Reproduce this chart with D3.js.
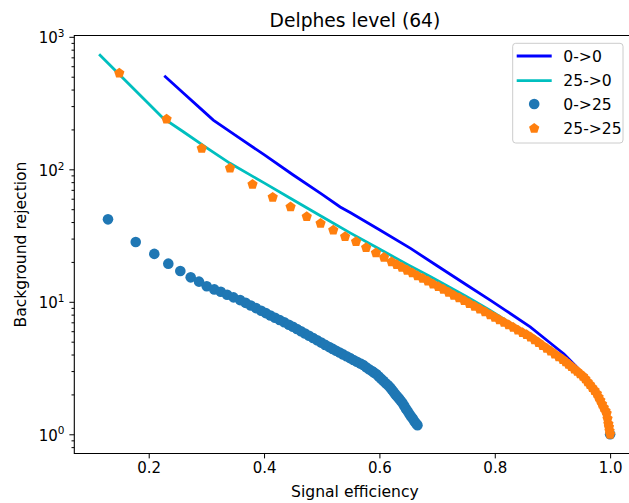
<!doctype html>
<html>
  <head>
    <script src="https://d3js.org/d3.v7.min.js"></script>
    <style>
      body { margin: 0; background: #fff; }
      svg { display: block; }
      text { font-family: "DejaVu Sans", sans-serif; }
    </style>
  </head>
  <body>
    <script>
    // 0->0 (line)
    var eff00 = [0.227, 0.26, 0.29, 0.312, 0.35, 0.40, 0.45, 0.50, 0.532, 0.55, 0.60, 0.654, 0.70, 0.75, 0.792, 0.82, 0.8614, 0.90, 0.92, 0.942, 0.96, 0.975, 0.99, 1.0];
    var rej00 = [509, 377, 287, 235, 181, 129, 91, 65, 52, 47, 35, 25.3, 18.7, 13.5, 10.3, 8.55, 6.47, 4.74, 4.04, 3.23, 2.55, 2.1, 1.55, 1.0];

    // 25->0 (line)
    var eff250 = [0.114, 0.15, 0.2, 0.225, 0.26, 0.3, 0.341, 0.4, 0.45, 0.5, 0.55, 0.6, 0.65, 0.688, 0.75, 0.79, 0.85, 0.9, 0.94, 0.96, 0.975, 0.99, 1.0];
    var rej250 = [739, 516, 313, 243, 192, 146, 111, 79, 59, 44, 33, 25, 19, 15.5, 11, 8.7, 6.0, 4.0, 2.9, 2.45, 2.05, 1.5, 1.0];

    // 0->25 (circles)
    var eff025 = [0.1294, 0.1775, 0.2097, 0.234, 0.2548, 0.2728, 0.2872, 0.3006, 0.3138,
      0.325, 0.336, 0.347, 0.3585, 0.368, 0.377, 0.386, 0.395, 0.403, 0.411, 0.419, 0.427, 0.435, 0.443, 0.450,
      0.457, 0.464, 0.471, 0.478, 0.485, 0.492, 0.499, 0.506, 0.513, 0.519, 0.525, 0.531, 0.537, 0.543, 0.549,
      0.555, 0.561, 0.567, 0.572, 0.577, 0.582, 0.587, 0.591, 0.595, 0.599, 0.603, 0.607, 0.611, 0.615, 0.619,
      0.622, 0.625, 0.628, 0.631, 0.634, 0.637, 0.640, 0.643, 0.646, 0.649, 0.652, 0.655, 0.658, 0.661, 0.664, 0.666,
      1.0];
    var rej025 = [41.9, 28.3, 23.0, 19.4, 17.1, 15.3, 14.2, 13.1, 12.4,
      11.9, 11.3, 10.8, 10.3, 9.82, 9.38, 8.96, 8.57, 8.22, 7.89, 7.58, 7.28, 7.00, 6.71, 6.49,
      6.24, 6.00, 5.77, 5.55, 5.33, 5.12, 4.92, 4.73, 4.55, 4.41, 4.27, 4.14, 4.01, 3.88, 3.76,
      3.64, 3.53, 3.42, 3.33, 3.21, 3.10, 3.00, 2.92, 2.84, 2.73, 2.62, 2.53, 2.43, 2.34, 2.25,
      2.16, 2.08, 2.00, 1.93, 1.86, 1.79, 1.72, 1.64, 1.56, 1.49, 1.42, 1.36, 1.31, 1.25, 1.20, 1.17,
      1.0];

    // 25->25 (pentagons)
    var eff2525 = [0.149, 0.231, 0.292, 0.341, 0.380, 0.415, 0.446, 0.474, 0.498, 0.520, 0.5405, 0.5595, 0.577, 0.594, 0.608, 0.621,
      0.630, 0.639, 0.648, 0.657, 0.666, 0.675, 0.684, 0.693, 0.702, 0.711, 0.720, 0.729, 0.738, 0.747, 0.756, 0.765, 0.774, 0.783, 0.792, 0.800,
      0.808, 0.816, 0.824, 0.832, 0.840, 0.848, 0.855, 0.862, 0.869, 0.876, 0.883, 0.890, 0.897, 0.904, 0.911, 0.918,
      0.923, 0.928, 0.933, 0.938, 0.943, 0.948, 0.953, 0.957, 0.961, 0.965, 0.969, 0.973, 0.977,
      0.980, 0.983, 0.986, 0.989, 0.992, 0.994, 0.9955, 0.997, 0.998, 0.999, 1.0];
    var rej2525 = [531, 239, 144, 102, 77, 61.5, 52, 44, 39, 34.8, 31.0, 28.4, 25.6, 23.4, 21.6, 20.0,
      19.1, 18.2, 17.3, 16.5, 15.7, 15.0, 14.3, 13.6, 13.0, 12.4, 11.8, 11.2, 10.7, 10.2, 9.70, 9.25, 8.80, 8.38, 7.98, 7.64,
      7.31, 7.00, 6.69, 6.40, 6.12, 5.86, 5.64, 5.41, 5.15, 4.91, 4.67, 4.45, 4.24, 4.03, 3.84, 3.66,
      3.52, 3.37, 3.24, 3.10, 2.98, 2.86, 2.74, 2.62, 2.49, 2.37, 2.25, 2.14, 2.03,
      1.91, 1.80, 1.69, 1.59, 1.50, 1.44, 1.31, 1.20, 1.13, 1.06, 1.00];

    var xTicks = [0.2, 0.4, 0.6, 0.8, 1.0];
    var yTicks = [1, 10, 100, 1000];
    var yMinor = [0.8, 0.9, 2, 3, 4, 5, 6, 7, 8, 9, 20, 30, 40, 50, 60, 70, 80, 90, 200, 300, 400, 500, 600, 700, 800, 900];

    var width = 629, height = 503;
    var pLeft = 74.3, pRight = 635.5, pTop = 35.5, pBottom = 453.5;

    var svg = d3.select("body").append("svg")
      .attr("width", width)
      .attr("height", height);

    var x = d3.scaleLinear().domain([0.071, 1.044]).range([pLeft, pRight]);
    var y = d3.scaleLog().domain([Math.pow(10, -0.145), Math.pow(10, 3.01)]).range([pBottom, pTop]);

    svg.append("clipPath").attr("id", "clip")
      .append("rect")
      .attr("x", pLeft).attr("y", pTop)
      .attr("width", pRight - pLeft).attr("height", pBottom - pTop);

    var plot = svg.append("g").attr("clip-path", "url(#clip)");

    function pairs(xs, ys) {
      return xs.map(function(d, i) { return [d, ys[i]]; });
    }

    var line = d3.line()
      .x(function(d) { return x(d[0]); })
      .y(function(d) { return y(d[1]); });

    plot.append("path")
      .datum(pairs(eff00, rej00))
      .attr("d", line)
      .attr("fill", "none")
      .attr("stroke", "#0000ff")
      .attr("stroke-width", 2.8);

    plot.append("path")
      .datum(pairs(eff250, rej250))
      .attr("d", line)
      .attr("fill", "none")
      .attr("stroke", "#00bfbf")
      .attr("stroke-width", 2.8);

    plot.selectAll("circle.c025")
      .data(pairs(eff025, rej025))
      .enter()
      .append("circle")
      .attr("class", "c025")
      .attr("cx", function(d) { return x(d[0]); })
      .attr("cy", function(d) { return y(d[1]); })
      .attr("r", 5.3)
      .attr("fill", "#1f77b4");

    function pentagon(r) {
      var pts = [];
      for (var k = 0; k < 5; k++) {
        var a = -Math.PI / 2 + k * 2 * Math.PI / 5;
        pts.push([r * Math.cos(a), r * Math.sin(a)]);
      }
      return "M" + pts.join("L") + "Z";
    }

    plot.selectAll("path.p2525")
      .data(pairs(eff2525, rej2525))
      .enter()
      .append("path")
      .attr("class", "p2525")
      .attr("d", pentagon(5.4))
      .attr("transform", function(d) { return "translate(" + x(d[0]) + "," + y(d[1]) + ")"; })
      .attr("fill", "#ff7f0e");

    // axes
    var xAxis = svg.append("g")
      .attr("transform", "translate(0," + pBottom + ")")
      .call(d3.axisBottom(x).tickValues(xTicks).tickSize(4.9).tickPadding(4).tickFormat(d3.format(".1f")));
    xAxis.select(".domain").remove();
    xAxis.selectAll("text").attr("font-size", "15px").attr("fill", "#000").style("font-family", "DejaVu Sans");

    var yAxis = svg.append("g")
      .attr("transform", "translate(" + pLeft + ",0)")
      .call(d3.axisLeft(y).tickValues(yTicks).tickSize(4.9).tickPadding(4.9).tickFormat(""));
    yAxis.select(".domain").remove();
    yAxis.selectAll(".tick text").each(function(d) {
      var t = d3.select(this)
        .attr("font-size", "15px").attr("fill", "#000").attr("dy", "0.4em")
        .style("font-family", "DejaVu Sans");
      t.append("tspan").text("10");
      t.append("tspan").attr("font-size", "10.5px").attr("dy", "-0.6em").text(Math.round(Math.log10(d)));
    });

    var yMinorAxis = svg.append("g")
      .attr("transform", "translate(" + pLeft + ",0)")
      .call(d3.axisLeft(y).tickValues(yMinor).tickSize(2.8).tickFormat(""));
    yMinorAxis.select(".domain").remove();

    svg.selectAll(".tick line").attr("stroke", "#000").attr("stroke-width", 1);

    // spines
    svg.append("path")
      .attr("d", "M" + pLeft + "," + pTop + "H" + pRight + "V" + pBottom + "H" + pLeft + "Z")
      .attr("fill", "none")
      .attr("stroke", "#000")
      .attr("stroke-width", 1.1);

    // titles
    svg.append("text")
      .attr("x", (pLeft + pRight) / 2)
      .attr("y", 27)
      .attr("text-anchor", "middle")
      .style("font-size", "18.7px")
      .text("Delphes level (64)");

    svg.append("text")
      .attr("x", (pLeft + pRight) / 2)
      .attr("y", 497)
      .attr("text-anchor", "middle")
      .style("font-size", "15.6px")
      .text("Signal efficiency");

    svg.append("text")
      .attr("transform", "translate(26," + ((pTop + pBottom) / 2) + ") rotate(-90)")
      .attr("text-anchor", "middle")
      .style("font-size", "15.6px")
      .text("Background rejection");

    // legend
    var legend = svg.append("g");
    legend.append("rect")
      .attr("x", 512.7).attr("y", 43.3)
      .attr("width", 110.3).attr("height", 99.7)
      .attr("rx", 3)
      .attr("fill", "#fff").attr("fill-opacity", 0.8)
      .attr("stroke", "#cccccc").attr("stroke-width", 1);

    var rowsY = [56, 80.7, 104, 128.3];
    var names = ["0->0", "25->0", "0->25", "25->25"];

    legend.append("line").attr("x1", 516.7).attr("x2", 551.7).attr("y1", rowsY[0]).attr("y2", rowsY[0])
      .attr("stroke", "#0000ff").attr("stroke-width", 2.8);
    legend.append("line").attr("x1", 516.7).attr("x2", 551.7).attr("y1", rowsY[1]).attr("y2", rowsY[1])
      .attr("stroke", "#00bfbf").attr("stroke-width", 2.8);
    legend.append("circle").attr("cx", 534.2).attr("cy", rowsY[2]).attr("r", 5.3).attr("fill", "#1f77b4");
    legend.append("path").attr("d", pentagon(5.4))
      .attr("transform", "translate(534.2," + rowsY[3] + ")").attr("fill", "#ff7f0e");

    legend.selectAll("text.lab")
      .data(names)
      .enter()
      .append("text")
      .attr("class", "lab")
      .attr("x", 563.3)
      .attr("y", function(d, i) { return rowsY[i]; })
      .attr("dy", "0.36em")
      .style("font-size", "15.6px")
      .text(function(d) { return d; });
    </script>
  </body>
</html>
